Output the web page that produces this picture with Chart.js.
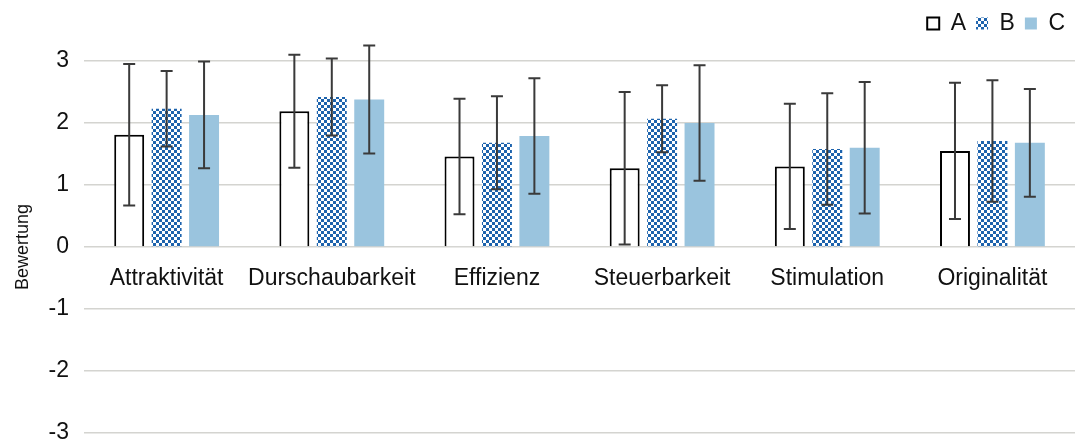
<!DOCTYPE html>
<html>
<head>
<meta charset="utf-8">
<script src="https://cdn.jsdelivr.net/npm/chart.js@4/dist/chart.umd.min.js"></script>
<style>
  html, body { margin: 0; padding: 0; background: #fff; }
  #wrap { width: 1082px; height: 443px; }
</style>
</head>
<body>
<div id="wrap"><canvas id="chart"></canvas></div>
<script>
const categories = ['Attraktivität', 'Durschaubarkeit', 'Effizienz', 'Steuerbarkeit', 'Stimulation', 'Originalität'];
const seriesNames = ['A', 'B', 'C'];
const meanA = [1.81, 2.19, 1.46, 1.27, 1.30, 1.55];
const meanB = [2.23, 2.42, 1.68, 2.07, 1.58, 1.71];
const meanC = [2.13, 2.38, 1.79, 2.00, 1.60, 1.68];
const sdA = [1.14, 0.91, 0.93, 1.23, 1.01, 1.10];
const sdB = [0.61, 0.62, 0.75, 0.54, 0.90, 0.98];
const sdC = [0.86, 0.87, 0.93, 0.93, 1.06, 0.87];
const yTicks = [-3, -2, -1, 0, 1, 2, 3];

// checkered fill for series B
function checker() {
  const c = document.createElement('canvas');
  c.width = 6; c.height = 6;
  const g = c.getContext('2d');
  g.fillStyle = '#ffffff';
  g.fillRect(0, 0, 6, 6);
  g.fillStyle = '#1d63ad';
  g.fillRect(0, 0, 3, 3);
  g.fillRect(3, 3, 3, 3);
  return g.createPattern(c, 'repeat');
}

// draws the error bars using the chart's own scales
const errorBars = {
  id: 'errorBars',
  afterDatasetsDraw(chart) {
    const ctx = chart.ctx;
    const y = chart.scales.y;
    ctx.save();
    ctx.strokeStyle = '#3a3a3a';
    ctx.lineWidth = 2;
    chart.data.datasets.forEach((ds, i) => {
      const meta = chart.getDatasetMeta(i);
      meta.data.forEach((bar, j) => {
        const v = ds.data[j], e = ds.errors[j];
        const top = y.getPixelForValue(v + e);
        const bot = y.getPixelForValue(v - e);
        const x = bar.x;
        ctx.beginPath();
        ctx.moveTo(x, top); ctx.lineTo(x, bot);
        ctx.moveTo(x - 6, top); ctx.lineTo(x + 6, top);
        ctx.moveTo(x - 6, bot); ctx.lineTo(x + 6, bot);
        ctx.stroke();
      });
    });
    ctx.restore();
  }
};

// a bit more room under the legend
const legendGap = {
  id: 'legendGap',
  beforeLayout(chart) {
    const lg = chart.legend;
    if (!lg || lg._gapped) return;
    const fit = lg.fit;
    lg.fit = function () { fit.call(this); this.height += 16; };
    lg._gapped = true;
  }
};

const font = { family: 'Liberation Sans, Arial, sans-serif', size: 23 };

new Chart(document.getElementById('chart'), {
  type: 'bar',
  data: {
    labels: categories,
    datasets: [
      { label: seriesNames[0], data: meanA, errors: sdA, backgroundColor: '#ffffff', borderColor: '#000000', borderWidth: 2 },
      { label: seriesNames[1], data: meanB, errors: sdB, backgroundColor: checker(), borderWidth: 0 },
      { label: seriesNames[2], data: meanC, errors: sdC, backgroundColor: '#9ac4de', borderWidth: 0 }
    ]
  },
  options: {
    responsive: true,
    maintainAspectRatio: false,
    animation: false,
    layout: { padding: { top: 2, right: 7, bottom: 10, left: 12 } },
    categoryPercentage: 0.68,
    barPercentage: 0.8,
    scales: {
      x: {
        position: { y: 0 },
        grid: { display: false },
        border: { display: false },
        ticks: { color: '#111', font: font, padding: 10, maxRotation: 0, autoSkip: false },
        afterFit(axis) { axis.height = 0; }
      },
      y: {
        min: -3,
        max: 3,
        afterBuildTicks(axis) { axis.ticks = yTicks.map(v => ({ value: v })); },
        afterFit(axis) { axis.paddingBottom = 0; },
        grid: { color: '#d4d4d0', lineWidth: 1.5, drawTicks: false },
        border: { display: false },
        ticks: { color: '#111', font: font, padding: 15 },
        title: { display: true, text: 'Bewertung', color: '#111', font: { family: font.family, size: 18 }, padding: 0 }
      }
    },
    plugins: {
      legend: {
        position: 'top',
        align: 'end',
        labels: { color: '#111', font: font, boxWidth: 12, boxHeight: 12, padding: 10 }
      },
      tooltip: { enabled: false }
    }
  },
  plugins: [errorBars, legendGap]
});
</script>
</body>
</html>
